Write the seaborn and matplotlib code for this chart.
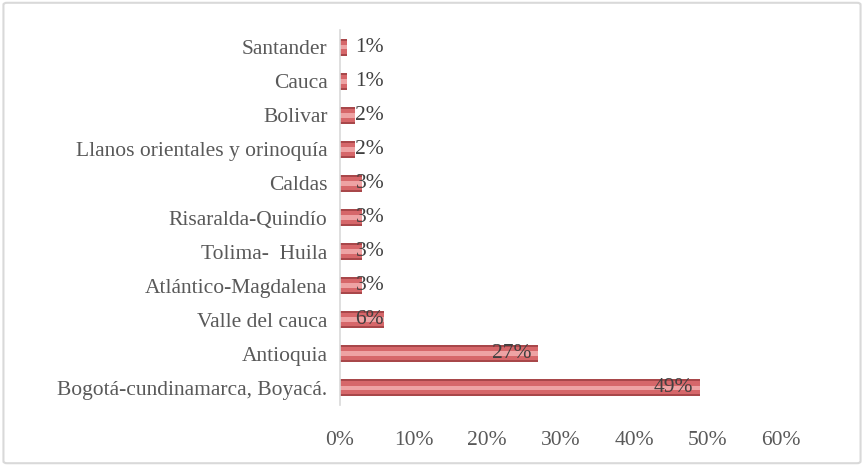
import matplotlib
matplotlib.use("Agg")
import matplotlib.pyplot as plt
import seaborn as sns
import pandas as pd
from matplotlib.patches import FancyBboxPatch

categories = ["Santander", "Cauca", "Bolivar", "Llanos orientales y orinoquía",
              "Caldas", "Risaralda-Quindío", "Tolima-  Huila", "Atlántico-Magdalena",
              "Valle del cauca", "Antioquia", "Bogotá-cundinamarca, Boyacá."]
values = [1, 1, 2, 2, 3, 3, 3, 3, 6, 27, 49]
labels = ["1%", "1%", "2%", "2%", "3%", "3%", "3%", "3%", "6%", "27%", "49%"]
xticks = [0, 10, 20, 30, 40, 50, 60]
xticklabels = ["0%", "10%", "20%", "30%", "40%", "50%", "60%"]

df = pd.DataFrame({"cat": categories, "val": values})

sns.set_theme(style="white")
plt.rcParams["font.family"] = ["Liberation Serif", "DejaVu Serif"]

fig = plt.figure(figsize=(8.64, 4.66), dpi=100)
ax = fig.add_axes([0.3935, 0.1309, 0.5104, 0.8047])

# base (darker edge), body, highlight
sns.barplot(data=df, y="cat", x="val", orient="h", color="#a8474a",
            width=0.5, saturation=1, linewidth=0, edgecolor="none", ax=ax)
sns.barplot(data=df, y="cat", x="val", orient="h", color="#d6676a",
            width=0.38, saturation=1, linewidth=0, edgecolor="none", ax=ax)
sns.barplot(data=df, y="cat", x="val", orient="h", color="#eea3a4",
            width=0.14, saturation=1, linewidth=0, edgecolor="none", ax=ax)

ax.set_xlim(0, 60)
ax.set_xticks(xticks)
ax.set_xticklabels(xticklabels)
ax.set_xlabel("")
ax.set_ylabel("")
ax.tick_params(axis="both", length=0, labelsize=15.5, colors="#595959")
ax.tick_params(axis="y", pad=9)
ax.tick_params(axis="x", pad=19)

for s in ["top", "right", "bottom"]:
    ax.spines[s].set_visible(False)
ax.spines["left"].set_color("#d9d9d9")
ax.spines["left"].set_linewidth(1.2)

for i, (v, lab) in enumerate(zip(values, labels)):
    if v < 8:
        ax.text(2.1, i, lab, ha="left", va="center", fontsize=15.5, color="#404040")
    else:
        ax.text(v - 1.0, i, lab, ha="right", va="center", fontsize=15.5, color="#404040")

border = FancyBboxPatch((0.004, 0.006), 0.992, 0.988, boxstyle="round,pad=0,rounding_size=0.004",
                        transform=fig.transFigure, fill=False, edgecolor="#d9d9d9", linewidth=1.5)
fig.patches.append(border)

fig.savefig("out.png", dpi=100, facecolor="white")
